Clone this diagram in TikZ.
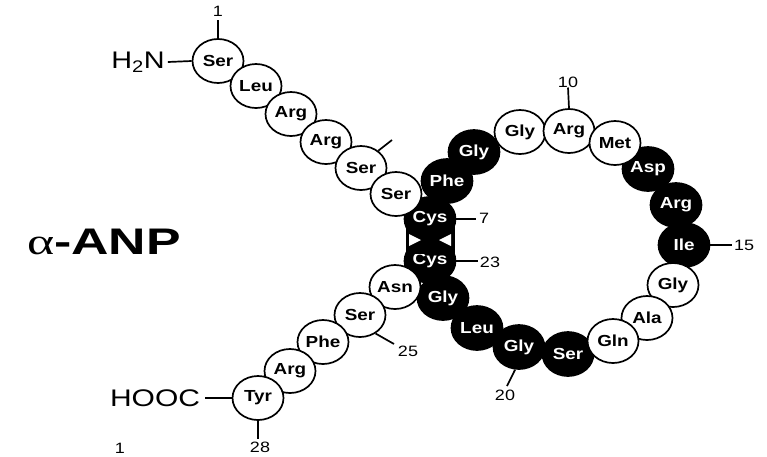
\documentclass[tikz,border=0pt]{standalone}
\usepackage{fontspec}
\usepackage{graphicx}
\setmainfont{Liberation Sans}
\newfontfamily\greekserif{Liberation Serif}
\usetikzlibrary{shapes.geometric}
\newcommand\rs[1]{\scalebox{1.18}[1]{#1}}
\newcommand\ns[1]{\scalebox{1.2}[1]{#1}}
\begin{document}
\begin{tikzpicture}[x=1pt,y=-1pt,
  res/.style={ellipse, draw=black, line width=1.7pt, minimum width=51pt, minimum height=44pt,
    inner sep=0pt, font=\fontsize{16}{16}\selectfont\bfseries},
  wres/.style={res, fill=white, text=black},
  bres/.style={res, fill=black, text=white},
  num/.style={inner sep=0pt, font=\fontsize{15}{15}\selectfont},
  term/.style={inner sep=0pt, font=\fontsize{24}{24}\selectfont},
  tick/.style={line width=1.7pt}]
\useasboundingbox[fill=white] (0,0) rectangle (767,456);

% disulfide box
\fill[black] (405.5,219) rectangle (454.5,261);
% black residues
\node[bres] (a7)  at (430,219) {\rs{Cys}};
\node[bres] (a23) at (430,261) {\rs{Cys}};
\node[bres] (a8)  at (447,181) {\rs{Phe}};
\node[bres] (a9)  at (474,152) {\rs{Gly}};
\node[bres] (a13) at (648,169) {\rs{Asp}};
\node[bres] (a14) at (676,205) {\rs{Arg}};
\node[bres] (a15) at (684,245) {\rs{Ile}};
\node[bres] (a19) at (568,354) {\rs{Ser}};
\node[bres] (a20) at (519,347) {\rs{Gly}};
\node[bres] (a21) at (477,328) {\rs{Leu}};
\node[bres] (a22) at (443,298) {\rs{Gly}};
\fill[black] (405.5,226) rectangle (454.5,254);
\fill[white] (409,234) -- (421,240) -- (409,246) -- cycle;
\fill[white] (451,234) -- (439,240) -- (451,246) -- cycle;

% white residues
\node[wres] (a1)  at (218,61)  {\rs{Ser}};
\node[wres] (a2)  at (256,86)  {\rs{Leu}};
\node[wres] (a3)  at (291,114) {\rs{Arg}};
\node[wres] (a4)  at (326,142) {\rs{Arg}};
\node[wres] (a5)  at (361,168) {\rs{Ser}};
\node[wres] (a6)  at (396,194) {\rs{Ser}};
\node[wres] (a10) at (520,132) {\rs{Gly}};
\node[wres] (a11) at (569,131) {\rs{Arg}};
\node[wres] (a12) at (615,143) {\rs{Met}};
\node[wres] (a16) at (673,285) {\rs{Gly}};
\node[wres] (a17) at (647,318) {\rs{Ala}};
\node[wres] (a18) at (613,341) {\rs{Gln}};
\node[wres] (a24) at (395,287) {\rs{Asn}};
\node[wres] (a25) at (360,315) {\rs{Ser}};
\node[wres] (a26) at (323,342) {\rs{Phe}};
\node[wres] (a27) at (290,371) {\rs{Arg}};
\node[wres] (a28) at (258,398) {\rs{Tyr}};

% termini and title
\node[term] (nterm) at (138,62) {\ns{H\textsubscript{2}N}};
\node[term] (cterm) at (155,398) {\scalebox{1.25}[1]{HOOC}};
\node[inner sep=0pt] (title) at (104,242) {\scalebox{1.4}[1]{\fontsize{37}{37}\selectfont{\greekserif α}\bfseries-ANP}};

% number labels
\node[num] (l1)  at (218,11)  {\ns{1}};
\node[num] (l10) at (568,82)  {\ns{10}};
\node[num] (l7)  at (484,218) {\ns{7}};
\node[num] (l23) at (490,262) {\ns{23}};
\node[num] (l15) at (744,245) {\ns{15}};
\node[num] (l20) at (505,395) {\ns{20}};
\node[num] (l25) at (408,351) {\ns{25}};
\node[num] (l28) at (260,447) {\ns{28}};
\node[num] (lx)  at (120,448) {\ns{1}};

\coordinate (t5) at (392,140);

% connectors
\draw[tick] (a1.north) -- ++(0,-18);
\draw[tick] (nterm.east) ++(3,0) -- (a1.west);
\draw[tick] (a5.45) -- (t5);
\draw[tick] (a11.north) -- (l10.south);
\draw[tick] (a7.east) -- ++(20,0);
\draw[tick] (a23.east) -- ++(22,0);
\draw[tick] (a15.east) -- ++(22,0);
\draw[tick] (a20.south) ++(-4,0) -- (507,386);
\draw[tick] (a25.-50) -- (394,344);
\draw[tick] (a28.south) -- ++(0,18);
\draw[tick] (cterm.east) ++(5,0) -- (a28.west);
\end{tikzpicture}
\end{document}
